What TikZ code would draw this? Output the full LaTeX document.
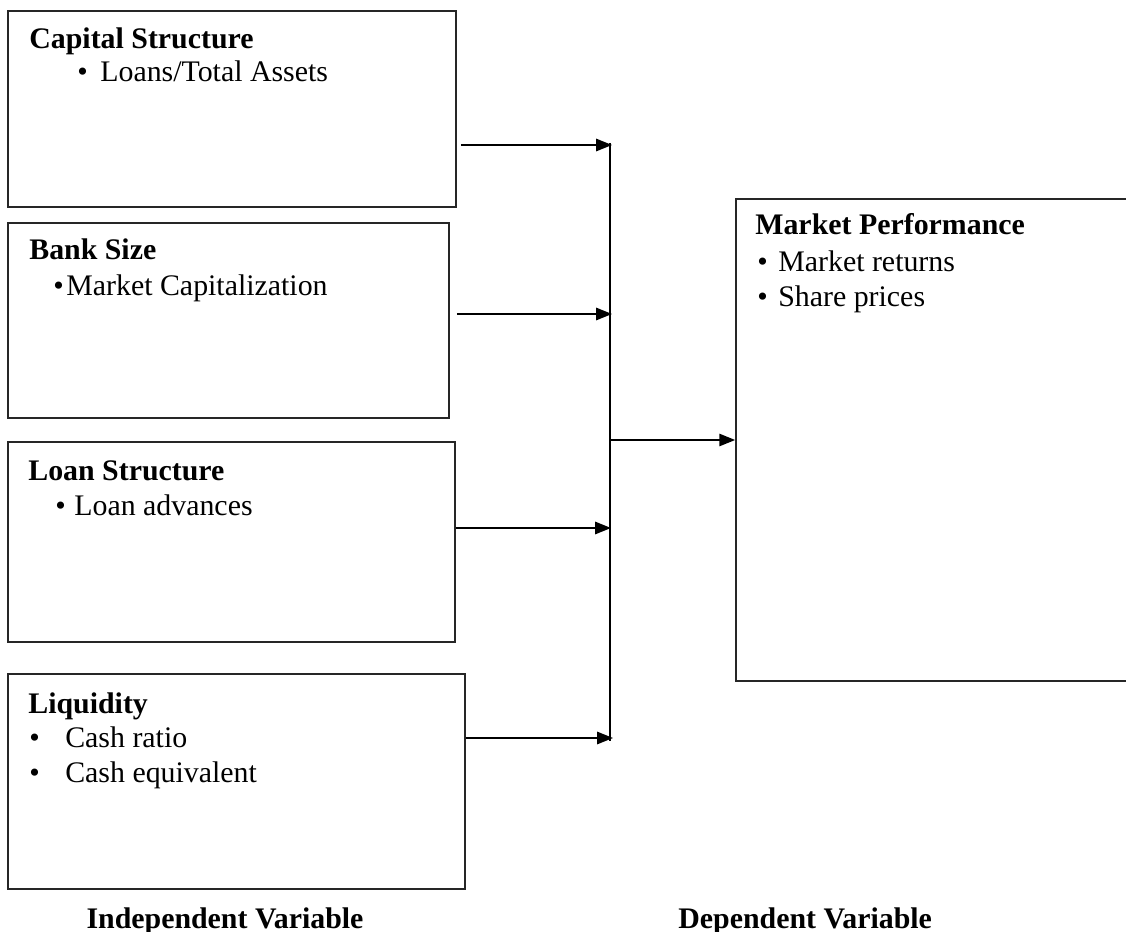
\documentclass[tikz,border=0pt]{standalone}
\usepackage{fontspec}
\setmainfont{Liberation Serif}
\usetikzlibrary{arrows.meta,positioning,calc}

\newcommand{\itembullet}[1]{\makebox[#1][l]{\textbullet}}

\begin{document}
\begin{tikzpicture}[x=0.02cm, y=-0.02cm,
  varbox/.style={draw=black!85, line width=1pt, inner sep=0pt},
  txt/.style={anchor=base west, inner sep=0pt, font=\fontsize{17}{20}\selectfont},
  ttl/.style={txt, font=\fontsize{17}{20}\selectfont\bfseries},
  link/.style={line width=1pt},
  arr/.style={link, -{Triangle[length=9pt,width=7pt]}}]

\useasboundingbox (0,0) rectangle (1126,932);

% Independent variable boxes
\node[varbox, minimum width=8.96cm, minimum height=3.92cm] (cap) at (232,109) {};
\node[varbox, minimum width=8.82cm, minimum height=3.90cm] (size) at (228.5,320.5) {};
\node[varbox, minimum width=8.94cm, minimum height=4.00cm] (loan) at (231.5,542) {};
\node[varbox, minimum width=9.14cm, minimum height=4.30cm] (liq) at (236.5,781.5) {};

% Dependent variable box (runs off the right edge)
\node[varbox, minimum width=8.08cm, minimum height=9.64cm] (mp) at (938,440) {};

% Box texts
\node[ttl] (capT) at (29,49) {Capital Structure};
\node[txt] (capA) at (77,82) {\itembullet{0.46cm}Loans/Total Assets};

\node[ttl] (sizeT) at (29,260) {Bank Size};
\node[txt] (sizeA) at (53,296) {\itembullet{0.26cm}Market Capitalization};

\node[ttl] (loanT) at (28,480) {Loan Structure};
\node[txt] (loanA) at (55,515) {\itembullet{0.38cm}Loan advances};

\node[ttl] (liqT) at (28,713) {Liquidity};
\node[txt] (liqA) at (29,747) {\itembullet{0.72cm}Cash ratio};
\node[txt] (liqB) at (29,782) {\itembullet{0.72cm}Cash equivalent};

\node[ttl] (mpT) at (755,235) {Market Performance};
\node[txt] (mpA) at (757,272) {\itembullet{0.42cm}Market returns};
\node[txt] (mpB) at (757,307) {\itembullet{0.42cm}Share prices};

% Collecting line
\coordinate (bustop) at (610,143);
\coordinate (busbot) at (610,741);
\coordinate (j1) at (612,145);
\coordinate (j2) at (612,314);
\coordinate (j3) at (611,528);
\coordinate (j4) at (613,738);
\coordinate (jm) at (610,440);
\draw[link] (bustop) -- (busbot);

% Arrows
\draw[arr, shorten <=0.08cm] (cap.east |- j1) -- (j1);
\draw[arr, shorten <=0.14cm] (size.east |- j2) -- (j2);
\draw[arr] (loan.east |- j3) -- (j3);
\draw[arr] (liq.east |- j4) -- (j4);
\draw[arr] (jm) -- (mp.west);

% Captions
\node[ttl, anchor=base] (indep) at (225,928) {Independent Variable};
\node[ttl] (dep) at (678,928) {Dependent Variable};

\end{tikzpicture}
\end{document}
